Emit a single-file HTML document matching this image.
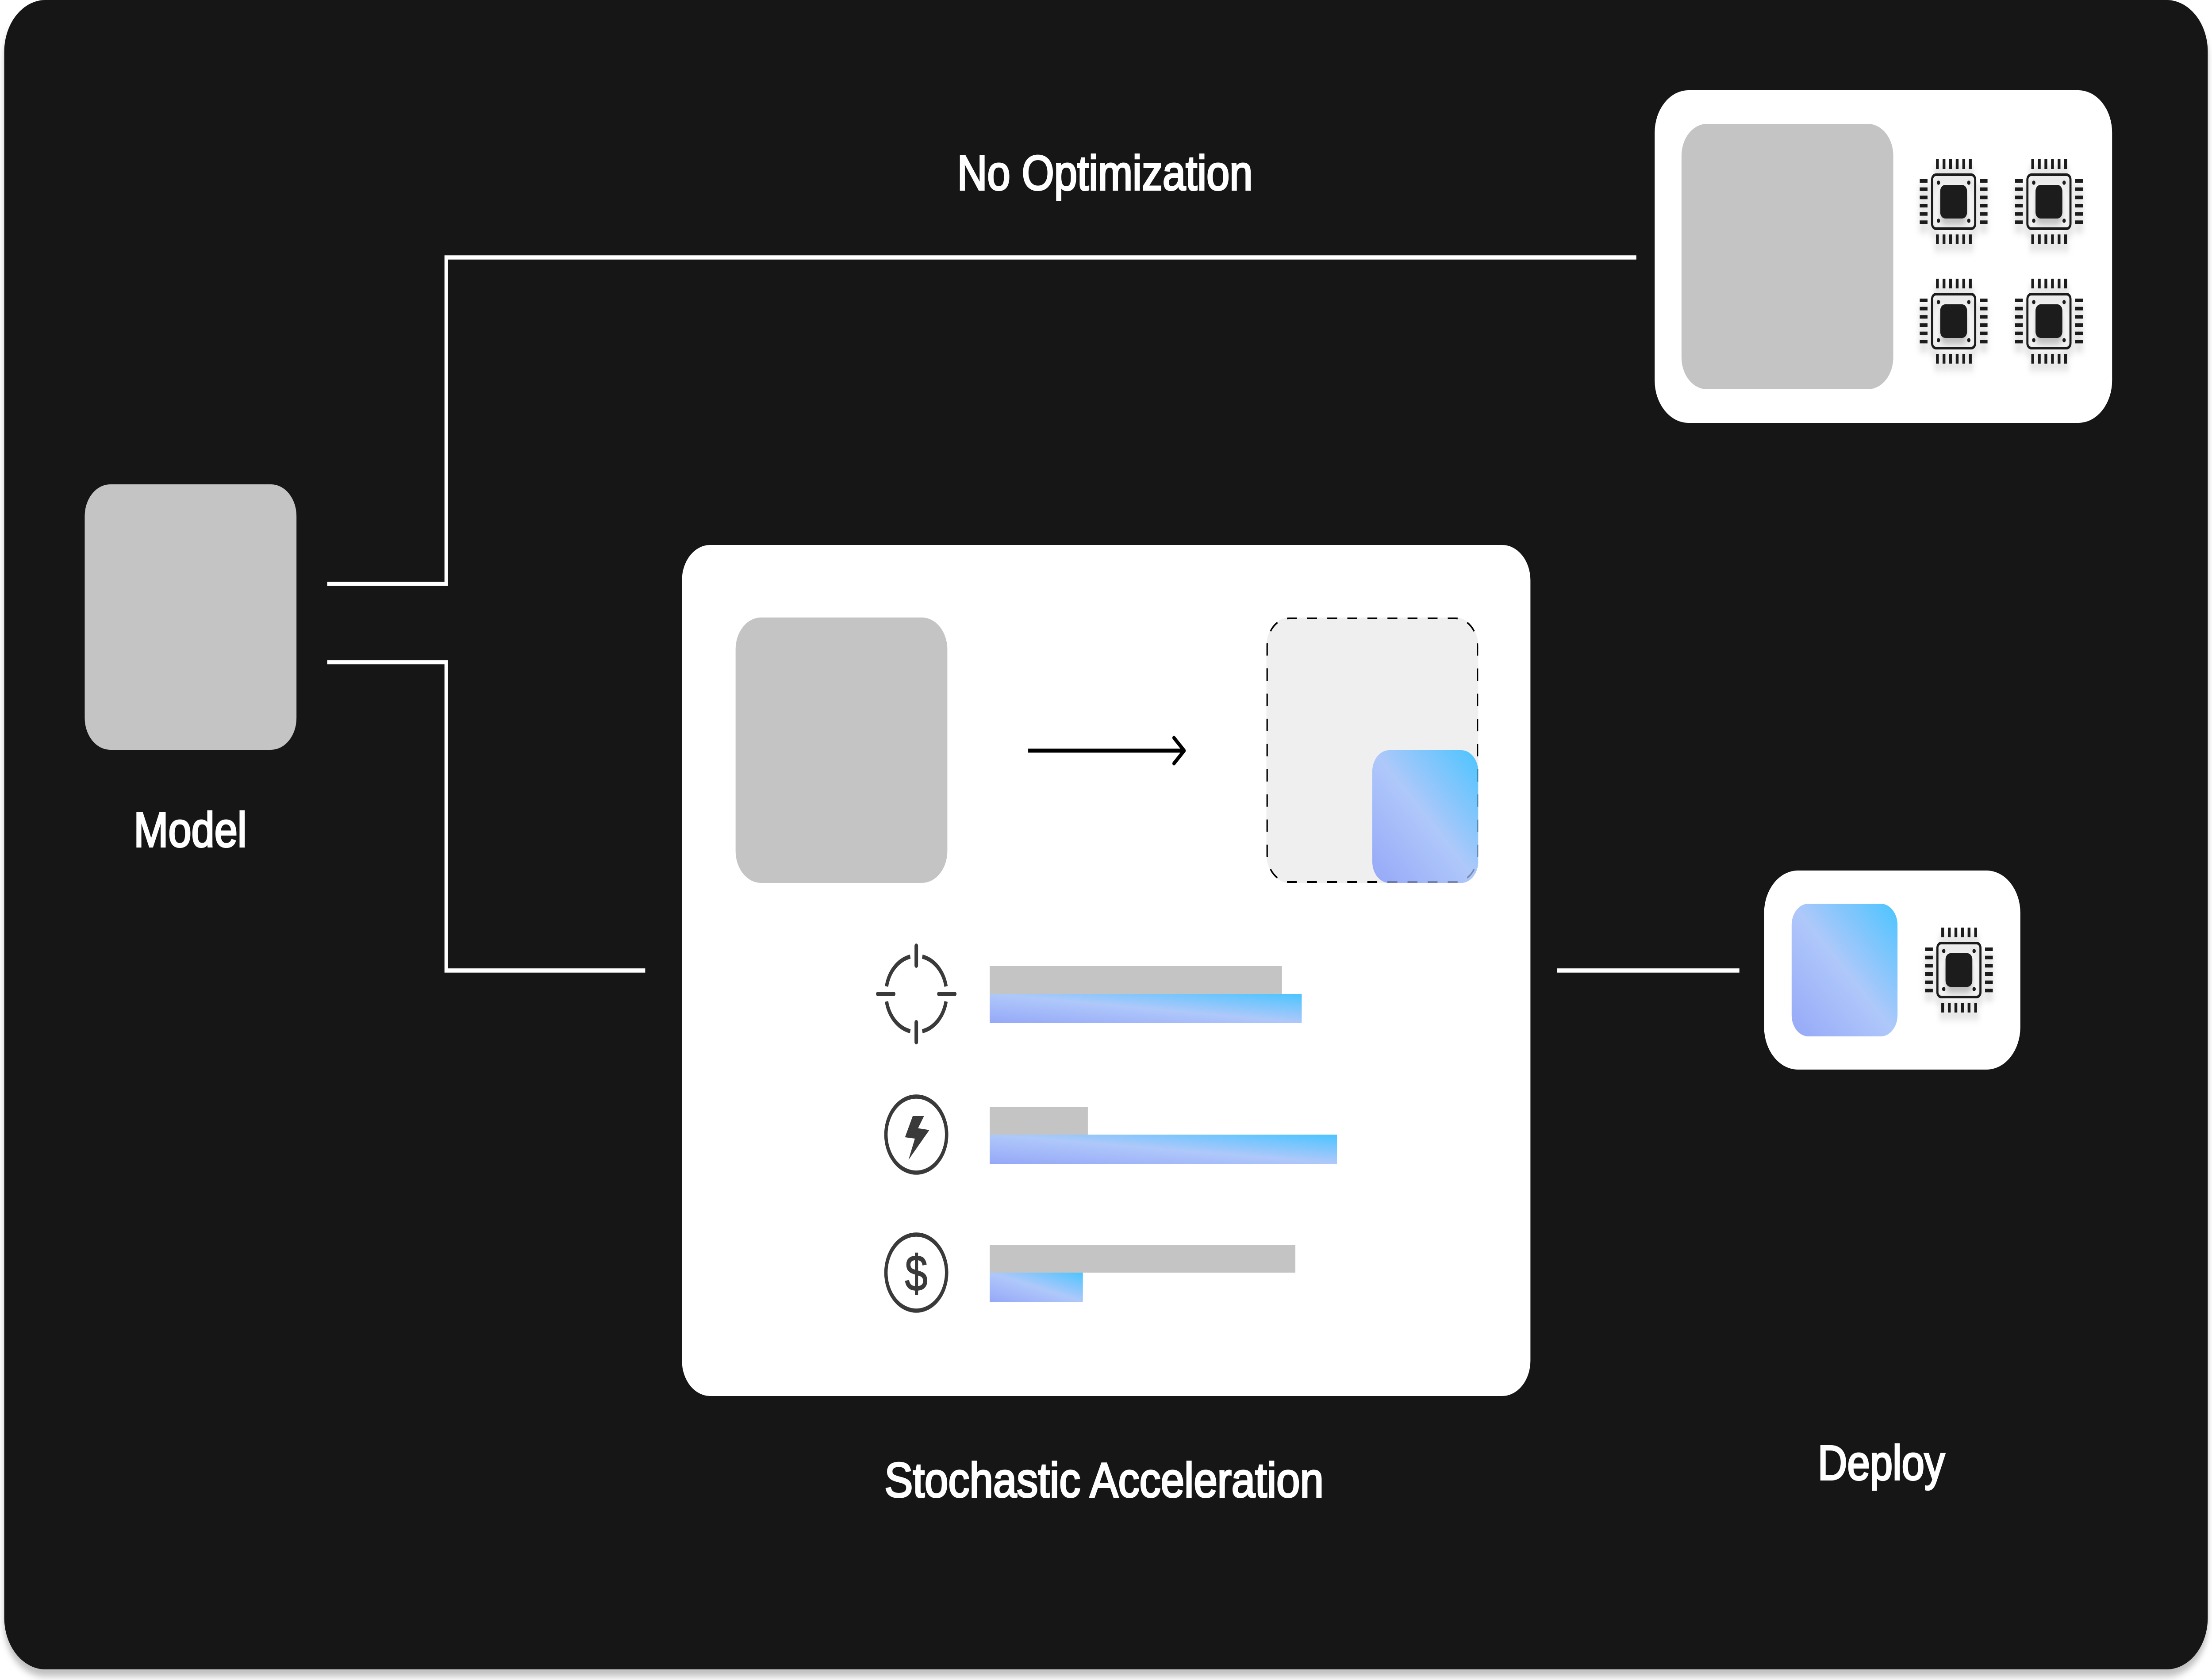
<!DOCTYPE html>
<html lang="en">
<head>
<meta charset="utf-8">
<title>Stochastic Acceleration diagram</title>
<style>
html,body{margin:0;padding:0;background:#fff;width:100%;height:100%;overflow:hidden}
svg{position:fixed;left:0;top:0;width:100vw;height:100vh;display:block}
text{font-family:"Liberation Sans",sans-serif}
.lbl{fill:#fff;stroke:#fff;stroke-width:4px;font-size:110px}
</style>
</head>
<body>
<svg viewBox="0 0 6267 3798" preserveAspectRatio="none" xmlns="http://www.w3.org/2000/svg">
<defs>
<linearGradient id="g" x1="0" y1="1" x2="1" y2="0">
<stop offset="0" stop-color="#95a8f8"/>
<stop offset="0.5" stop-color="#afc8fa"/>
<stop offset="1" stop-color="#4cc4ff"/>
</linearGradient>
<filter id="ds" x="-30%" y="-30%" width="160%" height="170%">
<feDropShadow dx="0" dy="16" stdDeviation="8" flood-color="#000" flood-opacity=".25"/>
</filter>
<filter id="bs" filterUnits="userSpaceOnUse" x="0" y="0" width="6267" height="3798">
<feDropShadow dx="0" dy="16" stdDeviation="8" flood-color="#000" flood-opacity=".25"/>
</filter>
<clipPath id="gc"><rect x="3888" y="1696" width="300" height="300" rx="48"/></clipPath>
<g id="chip" filter="url(#ds)" fill="#1e1e1e">
<rect x="-61" y="-61" width="122" height="122" rx="11" fill="none" stroke="#1e1e1e" stroke-width="6"/>
<rect x="-38" y="-38" width="76" height="76" rx="14"/>
<circle cx="-43" cy="-43" r="4.7"/><circle cx="43" cy="-43" r="4.7"/><circle cx="-43" cy="43" r="4.7"/><circle cx="43" cy="43" r="4.7"/>
<rect x="-50" y="-96" width="8" height="22"/><rect x="-31.33" y="-96" width="8" height="22"/><rect x="-12.67" y="-96" width="8" height="22"/><rect x="6" y="-96" width="8" height="22"/><rect x="24.67" y="-96" width="8" height="22"/><rect x="43.33" y="-96" width="8" height="22"/>
<rect x="-50" y="74" width="8" height="22"/><rect x="-31.33" y="74" width="8" height="22"/><rect x="-12.67" y="74" width="8" height="22"/><rect x="6" y="74" width="8" height="22"/><rect x="24.67" y="74" width="8" height="22"/><rect x="43.33" y="74" width="8" height="22"/>
<rect x="-96" y="-51" width="22" height="8"/><rect x="-96" y="-32.33" width="22" height="8"/><rect x="-96" y="-13.67" width="22" height="8"/><rect x="-96" y="5" width="22" height="8"/><rect x="-96" y="23.67" width="22" height="8"/><rect x="-96" y="42.33" width="22" height="8"/>
<rect x="74" y="-51" width="22" height="8"/><rect x="74" y="-32.33" width="22" height="8"/><rect x="74" y="-13.67" width="22" height="8"/><rect x="74" y="5" width="22" height="8"/><rect x="74" y="23.67" width="22" height="8"/><rect x="74" y="42.33" width="22" height="8"/>
</g>
</defs>

<!-- background panel -->
<rect x="12" y="0" width="6243" height="3774" rx="117" fill="#121212" filter="url(#bs)"/>

<!-- connectors -->
<g fill="none" stroke="#fff" stroke-width="9.5">
<path d="M927 1320H1264V582H4636"/>
<path d="M927 1497H1264V2194H1828"/>
<path d="M4412 2194H4928"/>
</g>

<!-- model -->
<rect x="240" y="1095" width="600" height="600" rx="72" fill="#c4c4c4"/>
<text class="lbl" x="379" y="1914" textLength="320" lengthAdjust="spacingAndGlyphs">Model</text>

<!-- no optimization -->
<text class="lbl" x="2712" y="429" textLength="837" lengthAdjust="spacingAndGlyphs">No Optimization</text>
<rect x="4688" y="204" width="1296" height="752" rx="96" fill="#fff"/>
<rect x="4764" y="280" width="600" height="600" rx="72" fill="#c4c4c4"/>
<use href="#chip" x="5535" y="456"/>
<use href="#chip" x="5805" y="456"/>
<use href="#chip" x="5535" y="726"/>
<use href="#chip" x="5805" y="726"/>

<!-- centre card -->
<rect x="1932" y="1232" width="2404" height="1924" rx="80" fill="#fff"/>
<rect x="2084" y="1396" width="600" height="600" rx="72" fill="#c4c4c4"/>
<g fill="none" stroke="#000" stroke-width="9">
<path d="M2913 1697H3352"/>
<path d="M3326 1668L3355 1697L3326 1726" stroke-linecap="round" stroke-linejoin="round"/>
</g>
<rect x="3588" y="1396" width="600" height="600" rx="64" fill="#efefef"/>
<path d="M3888 1398H4124A62 62 0 0 1 4186 1460V1932A62 62 0 0 1 4124 1994H3652A62 62 0 0 1 3590 1932V1460A62 62 0 0 1 3652 1398Z" fill="none" stroke="#000" stroke-width="4" stroke-dasharray="28 28.94" stroke-dashoffset="14"/>
<rect x="3888" y="1696" width="300" height="300" rx="48" fill="url(#g)"/>
<path clip-path="url(#gc)" d="M3888 1398H4124A62 62 0 0 1 4186 1460V1932A62 62 0 0 1 4124 1994H3652A62 62 0 0 1 3590 1932V1460A62 62 0 0 1 3652 1398Z" fill="none" stroke="#000" stroke-opacity=".3" stroke-width="4" stroke-dasharray="28 28.94" stroke-dashoffset="14"/>

<!-- bars -->
<rect x="2804" y="2184" width="828" height="63" fill="#c4c4c4"/>
<rect x="2804" y="2247" width="884" height="66" fill="url(#g)"/>
<rect x="2804" y="2502" width="278" height="63" fill="#c4c4c4"/>
<rect x="2804" y="2565" width="984" height="66" fill="url(#g)"/>
<rect x="2804" y="2814" width="866" height="63" fill="#c4c4c4"/>
<rect x="2804" y="2877" width="264" height="66" fill="url(#g)"/>

<!-- icons -->
<g transform="translate(2596 2247)" fill="none" stroke="#3a3a3a" stroke-width="9.5">
<path d="M17 -84.3A86 86 0 0 1 84.3 -17M84.3 17A86 86 0 0 1 17 84.3M-17 84.3A86 86 0 0 1 -84.3 17M-84.3 -17A86 86 0 0 1 -17 -84.3"/>
<path stroke-linecap="round" stroke-width="10" d="M0 -109V-64M0 64V109M-109 0H-64M64 0H109"/>
</g>
<circle cx="2596" cy="2565" r="86" fill="none" stroke="#3a3a3a" stroke-width="9.5"/>
<polygon points="2586,2523 2618,2523 2601,2550.6 2633,2554.6 2574,2622 2592,2574 2564,2571" fill="#3a3a3a"/>
<circle cx="2596" cy="2877" r="86" fill="none" stroke="#3a3a3a" stroke-width="9.5"/>
<text x="2596" y="2918" text-anchor="middle" font-size="115" fill="#3a3a3a" stroke="#3a3a3a" stroke-width="2">$</text>

<text class="lbl" x="2506" y="3384" textLength="1244" lengthAdjust="spacingAndGlyphs">Stochastic Acceleration</text>

<!-- deploy -->
<rect x="4998" y="1968" width="726" height="450" rx="96" fill="#fff"/>
<rect x="5076" y="2043" width="300" height="300" rx="48" fill="url(#g)"/>
<use href="#chip" x="5550" y="2193"/>
<text class="lbl" x="5150" y="3345" textLength="360" lengthAdjust="spacingAndGlyphs">Deploy</text>
</svg>
</body>
</html>
